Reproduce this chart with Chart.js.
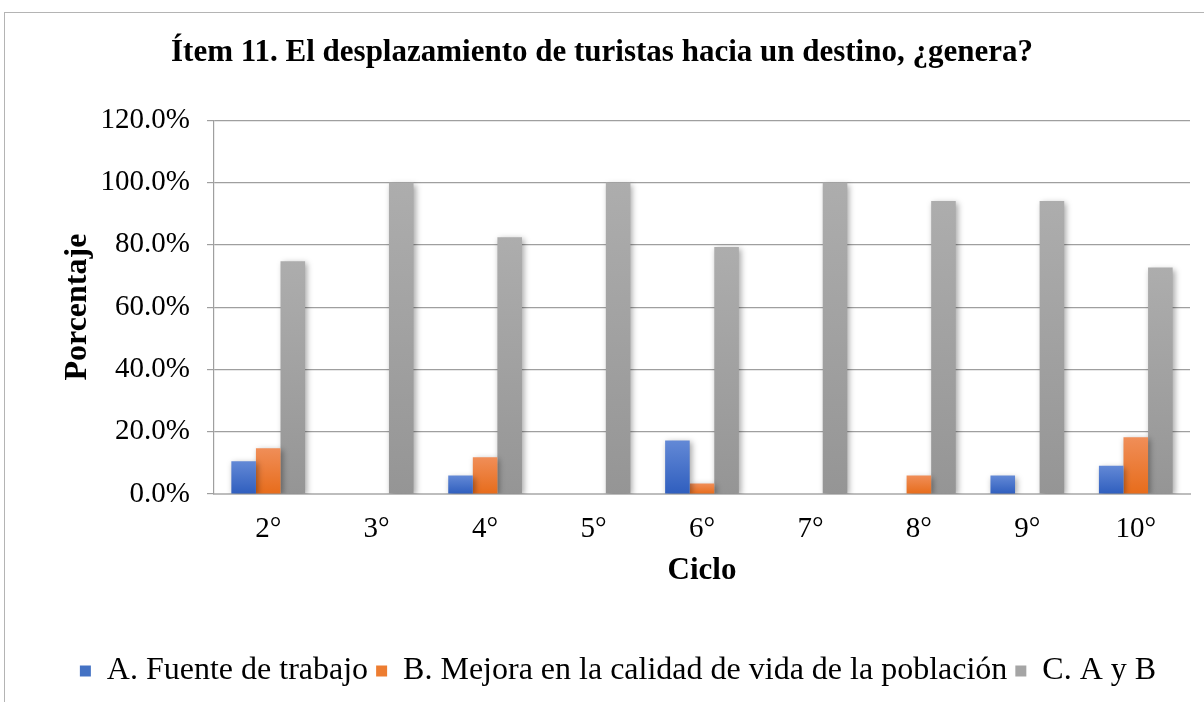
<!DOCTYPE html>
<html>
<head>
<meta charset="utf-8">
<script src="https://cdn.jsdelivr.net/npm/chart.js@4.4.1/dist/chart.umd.min.js"></script>
<style>
  html, body { margin: 0; padding: 0; background: #fff; }
  #wrap { position: relative; width: 1204px; height: 702px; overflow: hidden; }
  #frame { position: absolute; left: 4px; top: 12px; width: 1220px; height: 720px; border: 1px solid #b4b4b4; }
  #myChart { position: absolute; left: 0; top: 0; }
</style>
</head>
<body>
<div id="wrap">
  <div id="frame"></div>
  <canvas id="myChart" width="1204" height="702"></canvas>
</div>
<script>
// categories and values (percent)
const ciclos = ['2°', '3°', '4°', '5°', '6°', '7°', '8°', '9°', '10°'];
const fuenteTrabajo = [10.5, 0, 5.9, 0, 17.2, 0, 0, 5.9, 9.1];
const mejoraCalidad = [14.7, 0, 11.8, 0, 3.4, 0, 5.9, 0, 18.2];
const ambas = [74.7, 100, 82.4, 100, 79.3, 100, 94.1, 94.1, 72.7];
const seriesNames = ['A. Fuente de trabajo', 'B. Mejora en la calidad de vida de la población', 'C. A y B'];

// gradient per bar, lighter at top like the Excel default
function barGradient(top, bottom, fallback) {
  return function(context) {
    const chart = context.chart;
    const yScale = chart.scales.y;
    if (!chart.chartArea || !yScale || context.raw === undefined) return fallback;
    const yTop = yScale.getPixelForValue(context.raw);
    const yBase = yScale.getPixelForValue(0);
    if (!isFinite(yTop) || yBase - yTop < 1) return fallback;
    const g = chart.ctx.createLinearGradient(0, yTop, 0, yBase);
    g.addColorStop(0, top);
    g.addColorStop(1, bottom);
    return g;
  };
}

// soft shadow behind the bars
const barShadow = {
  id: 'barShadow',
  beforeDatasetsDraw(chart) {
    const ctx = chart.ctx;
    ctx.save();
    ctx.shadowColor = 'rgba(0,0,0,0.35)';
    ctx.shadowBlur = 6;
    ctx.shadowOffsetX = 2;
    ctx.shadowOffsetY = 2;
  },
  afterDatasetsDraw(chart) {
    chart.ctx.restore();
  }
};

// nudge the legend a little right and down, the original isn't centred
const legendNudge = {
  id: 'legendNudge',
  afterLayout(chart) {
    const lg = chart.legend;
    if (!lg) return;
    lg.left += 16; lg.right += 16;
    lg.top += 2; lg.bottom += 2;
  }
};

const legendColors = ['#4472c4', '#ed7d31', '#a5a5a5'];
const serif = "'Liberation Serif', 'Times New Roman', serif";

const ctx = document.getElementById('myChart').getContext('2d');
new Chart(ctx, {
  type: 'bar',
  data: {
    labels: ciclos,
    datasets: [
      { label: seriesNames[0], data: fuenteTrabajo, backgroundColor: barGradient('#6389d6', '#2f5ebe', '#4472c4') },
      { label: seriesNames[1], data: mejoraCalidad, backgroundColor: barGradient('#f08e58', '#e76c1b', '#ed7d31') },
      { label: seriesNames[2], data: ambas, backgroundColor: barGradient('#adadad', '#959595', '#a5a5a5') }
    ]
  },
  plugins: [barShadow, legendNudge],
  options: {
    responsive: false,
    animation: false,
    datasets: {
      bar: { categoryPercentage: 0.68, barPercentage: 1.0 }
    },
    layout: { padding: { left: 14, right: 14, top: 0, bottom: 7 } },
    plugins: {
      title: {
        display: true,
        text: 'Ítem 11. El desplazamiento de turistas hacia un destino, ¿genera?',
        color: '#000',
        font: { family: serif, size: 31, weight: 'bold' },
        padding: { top: 34, bottom: 49 }
      },
      legend: {
        position: 'bottom',
        labels: {
          color: '#000',
          font: { family: serif, size: 32 },
          boxWidth: 11,
          boxHeight: 11,
          padding: 8,
          generateLabels(chart) {
            return chart.data.datasets.map((ds, i) => ({
              text: ds.label,
              fillStyle: legendColors[i],
              strokeStyle: legendColors[i],
              lineWidth: 0,
              datasetIndex: i
            }));
          }
        }
      },
      tooltip: { enabled: false }
    },
    scales: {
      x: {
        grid: { display: false, drawTicks: false },
        border: { color: '#bdbdbd', width: 2 },
        ticks: { color: '#000', font: { family: serif, size: 29 }, padding: 18 },
        title: {
          display: true,
          text: 'Ciclo',
          color: '#000',
          font: { family: serif, size: 31, weight: 'bold' },
          padding: { top: 0, bottom: 55 }
        },
        afterFit(scale) { scale.height = 151; }
      },
      y: {
        min: 0,
        max: 120,
        ticks: {
          stepSize: 20,
          color: '#000',
          font: { family: serif, size: 29 },
          padding: 17,
          callback: (v) => v.toFixed(1) + '%'
        },
        grid: { color: '#9f9f9f', lineWidth: 1.2, tickLength: 7 },
        border: { color: '#9f9f9f', width: 1.2 },
        title: {
          display: true,
          text: 'Porcentaje',
          color: '#000',
          font: { family: serif, size: 32, weight: 'bold' },
          padding: { top: 45, bottom: 0 }
        },
        afterFit(scale) { scale.width = 200; }
      }
    }
  }
});
</script>
</body>
</html>
